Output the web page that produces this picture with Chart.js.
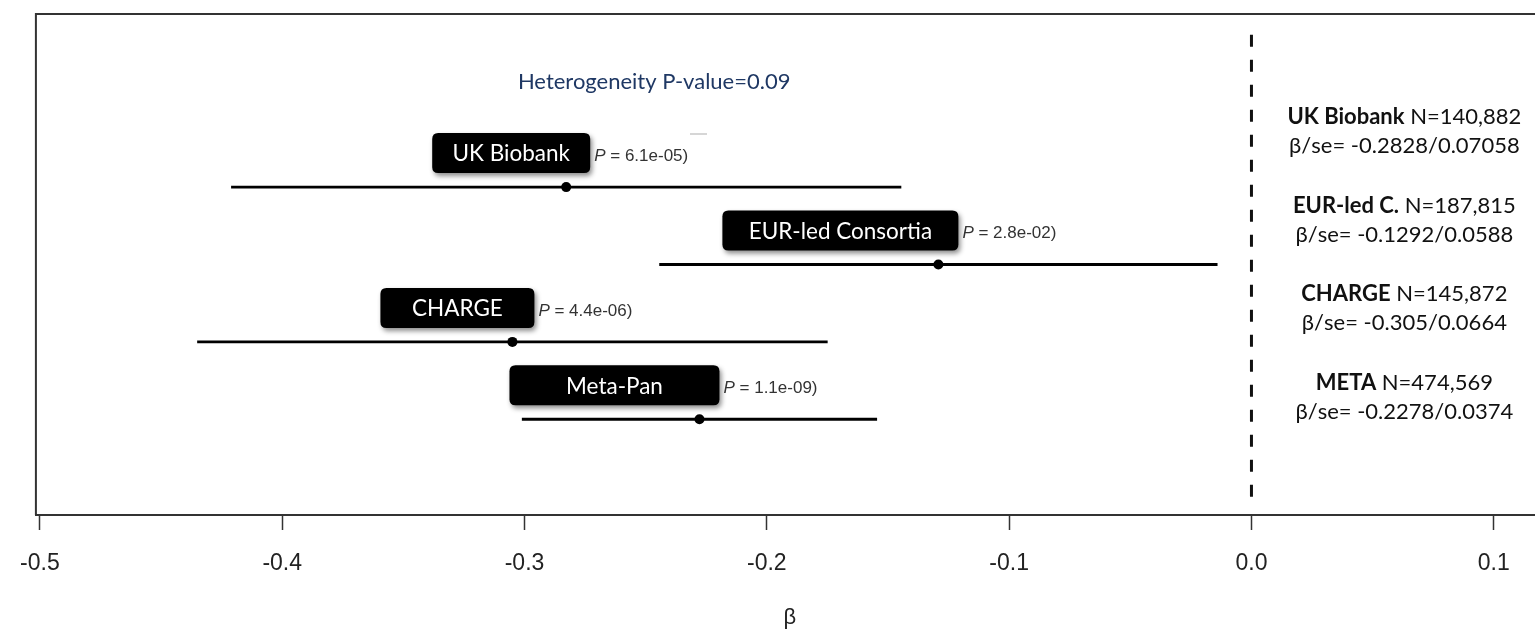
<!DOCTYPE html>
<html>
<head>
<meta charset="utf-8">
<script src="https://cdn.jsdelivr.net/npm/chart.js@4.4.1/dist/chart.umd.min.js"></script>
<style>
  html, body { margin: 0; padding: 0; background: #ffffff; overflow: hidden; }
  #wrap { width: 1535px; height: 631px; overflow: hidden; position: relative; }
</style>
</head>
<body>
<div id="wrap"><canvas id="forest" width="1560" height="631"></canvas></div>
<script>
// Study-level estimates of β with their standard errors
const studies      = ['UK Biobank', 'EUR-led Consortia', 'CHARGE', 'Meta-Pan'];
const shortNames   = ['UK Biobank', 'EUR-led C.', 'CHARGE', 'META'];
const betas        = [-0.2828, -0.1292, -0.305, -0.2278];
const ses          = [0.07058, 0.0588, 0.0664, 0.0374];
const ciLower      = [-0.4211, -0.2444, -0.4351, -0.3011];
const ciUpper      = [-0.1445, -0.0140, -0.1749, -0.1545];
const sampleSizes  = ['140,882', '187,815', '145,872', '474,569'];
const pValues      = ['6.1e-05', '2.8e-02', '4.4e-06', '1.1e-09'];
const rowPositions = [4, 3, 2, 1];
const xTickValues  = [-0.5, -0.4, -0.3, -0.2, -0.1, 0.0, 0.1];
const heterogeneityP = '0.09';

// Label box styling (px)
const boxWidths = [158, 236, 154, 210];
const boxGaps   = [24, 20, 22, 20];

const LABEL_FONT = 'Lato, "Open Sans", sans-serif';
const AXIS_FONT  = '"Liberation Sans", Arial, sans-serif';

const datasets = [];

// confidence interval segments
studies.forEach((name, i) => {
  datasets.push({
    label: name + ' CI',
    data: [{ x: ciLower[i], y: rowPositions[i] }, { x: ciUpper[i], y: rowPositions[i] }],
    showLine: true,
    borderColor: '#000000',
    borderWidth: 2.8,
    pointRadius: 0,
    pointHoverRadius: 0
  });
});

// point estimates
datasets.push({
  label: 'estimate',
  data: betas.map((b, i) => ({ x: b, y: rowPositions[i] })),
  showLine: false,
  pointRadius: 5,
  pointBackgroundColor: '#000000',
  pointBorderColor: '#000000',
  pointBorderWidth: 0
});

// null-effect reference line
datasets.push({
  label: 'null',
  data: [{ x: 0, y: 5.97 }, { x: 0, y: 0 }],
  showLine: true,
  borderColor: '#111111',
  borderWidth: 3,
  borderDash: [12, 13],
  pointRadius: 0
});

function roundedBox(ctx, x, y, w, h, r) {
  ctx.beginPath();
  ctx.moveTo(x + r, y);
  ctx.lineTo(x + w - r, y);
  ctx.quadraticCurveTo(x + w, y, x + w, y + r);
  ctx.lineTo(x + w, y + h - r);
  ctx.quadraticCurveTo(x + w, y + h, x + w - r, y + h);
  ctx.lineTo(x + r, y + h);
  ctx.quadraticCurveTo(x, y + h, x, y + h - r);
  ctx.lineTo(x, y + r);
  ctx.quadraticCurveTo(x, y, x + r, y);
  ctx.closePath();
}

const annotations = {
  id: 'forestAnnotations',
  afterDraw(chart) {
    const ctx = chart.ctx;
    const xs = chart.scales.x, ys = chart.scales.y;
    const area = chart.chartArea;

    // plot frame (left and top edges; bottom is the x axis)
    ctx.save();
    ctx.strokeStyle = '#333333';
    ctx.lineWidth = 2;
    ctx.beginPath();
    ctx.moveTo(area.left, area.bottom);
    ctx.lineTo(area.left, area.top);
    ctx.lineTo(chart.width, area.top);
    ctx.stroke();
    ctx.restore();

    // heterogeneity note
    ctx.save();
    ctx.font = '22px ' + LABEL_FONT;
    ctx.fillStyle = '#1f3864';
    ctx.textAlign = 'center';
    ctx.textBaseline = 'middle';
    ctx.fillText('Heterogeneity P-value=' + heterogeneityP, xs.getPixelForValue(-0.2465), ys.getPixelForValue(5.36));
    ctx.restore();

    // small grey stroke above the first row
    ctx.save();
    ctx.strokeStyle = '#c8c8c8';
    ctx.lineWidth = 1.5;
    ctx.beginPath();
    ctx.moveTo(690, area.top + 120);
    ctx.lineTo(707, area.top + 120);
    ctx.stroke();
    ctx.restore();

    // study label boxes and p-values
    studies.forEach((name, i) => {
      const px = xs.getPixelForValue(betas[i]);
      const py = ys.getPixelForValue(rowPositions[i]);
      const w = boxWidths[i], h = 40;
      const right = px + boxGaps[i];
      const left = right - w;
      const top = py - 54;
      ctx.save();
      ctx.shadowColor = 'rgba(0,0,0,0.45)';
      ctx.shadowBlur = 5;
      ctx.shadowOffsetX = 2;
      ctx.shadowOffsetY = 3;
      ctx.fillStyle = '#000000';
      roundedBox(ctx, left, top, w, h, 6);
      ctx.fill();
      ctx.restore();

      ctx.save();
      ctx.fillStyle = '#ffffff';
      ctx.font = '22.5px ' + LABEL_FONT;
      ctx.textAlign = 'center';
      ctx.textBaseline = 'middle';
      ctx.fillText(name, left + w / 2, top + h / 2 + 1);

      const ty = top + h / 2 + 3;
      ctx.fillStyle = '#333333';
      ctx.textAlign = 'left';
      ctx.font = 'italic 17px ' + AXIS_FONT;
      let tx = right + 4;
      ctx.fillText('P', tx, ty);
      tx += ctx.measureText('P').width;
      ctx.font = '17px ' + AXIS_FONT;
      ctx.fillText(' = ' + pValues[i] + ')', tx, ty);
      ctx.restore();
    });

    // summary text column to the right of the null line
    const cx = xs.getPixelForValue(0.0631);
    studies.forEach((name, i) => {
      const y1 = area.top + 103 + i * 88.7;
      const y2 = y1 + 29;
      ctx.save();
      ctx.fillStyle = '#111111';
      ctx.textBaseline = 'middle';
      ctx.textAlign = 'left';
      const boldPart = shortNames[i];
      const regPart = ' N=' + sampleSizes[i];
      ctx.font = 'bold 22px ' + LABEL_FONT;
      const wb = ctx.measureText(boldPart).width;
      ctx.font = '22px ' + LABEL_FONT;
      const wr = ctx.measureText(regPart).width;
      let sx = cx - (wb + wr) / 2;
      ctx.font = 'bold 22px ' + LABEL_FONT;
      ctx.fillText(boldPart, sx, y1);
      ctx.font = '22px ' + LABEL_FONT;
      ctx.fillText(regPart, sx + wb, y1);
      ctx.textAlign = 'center';
      ctx.fillText('β/se= ' + betas[i] + '/' + ses[i], cx, y2);
      ctx.restore();
    });
  }
};

new Chart(document.getElementById('forest'), {
  type: 'scatter',
  data: { datasets },
  options: {
    responsive: false,
    animation: false,
    devicePixelRatio: 1,
    layout: { padding: { left: 32, right: 16, top: 14, bottom: 0 } },
    plugins: { legend: { display: false }, tooltip: { enabled: false } },
    scales: {
      x: {
        type: 'linear',
        min: -0.50165,
        max: 0.12073,
        afterBuildTicks: (scale) => { scale.ticks = xTickValues.map(v => ({ value: v })); },
        afterFit: (scale) => { scale.height = 116; },
        ticks: {
          callback: (v) => Number(v).toFixed(1),
          font: { family: AXIS_FONT, size: 23 },
          color: '#222222',
          padding: 20,
          maxRotation: 0,
          autoSkip: false
        },
        grid: {
          drawOnChartArea: false,
          drawTicks: true,
          tickLength: 15,
          tickWidth: 1.5,
          tickColor: '#333333'
        },
        border: { display: true, color: '#333333', width: 2 },
        title: {
          display: true,
          text: 'β',
          font: { family: AXIS_FONT, size: 22 },
          color: '#222222',
          padding: { top: 0, bottom: 0 }
        }
      },
      y: {
        type: 'linear',
        min: -0.237,
        max: 6.237,
        display: false
      }
    }
  },
  plugins: [annotations]
});
</script>
</body>
</html>
